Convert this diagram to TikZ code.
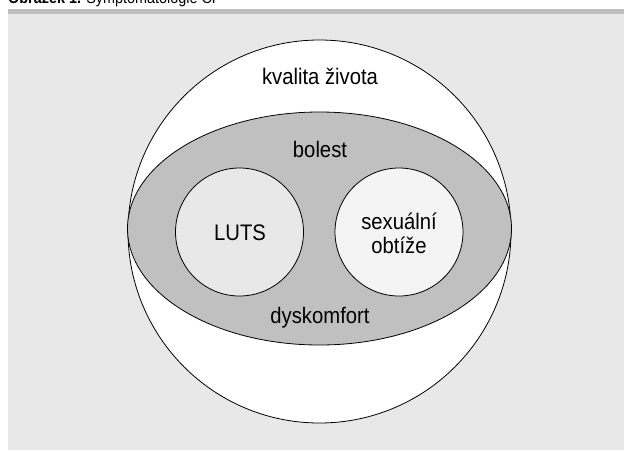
\documentclass[tikz,border=0pt]{standalone}
\usepackage{fontspec}
\setmainfont{Liberation Sans}[FakeStretch=0.9]
\tikzset{
		venn/.style={
			every node/.style={font=\fontsize{22.5}{26}\selectfont,align=center,inner sep=0pt}
		},
		ring/.style={draw,line width=0.8pt},
		capfont/.style={font=\fontsize{16}{18}\selectfont,anchor=base west,inner sep=0pt}
	}
\definecolor{bggrey}{HTML}{E8E8E8}
\definecolor{bargrey}{HTML}{BDBDBD}
\definecolor{bolgrey}{HTML}{C0C0C0}
\definecolor{sexgrey}{HTML}{F4F4F4}

\begin{document}
\begin{tikzpicture}[x=1pt,y=-1pt,venn]
				\useasboundingbox (0,0) rectangle (624,450);
				\begin{scope}
					\clip (0,0) rectangle (624,450);
					\node[capfont] (caption) at (8,3) {\textbf{Obrázek 1.} Symptomatologie CP};
				\end{scope}
				\fill[bargrey] (8,9) rectangle (624,13.5);
				\fill[bggrey] (8,14) rectangle (624,450);
				\draw[ring,fill=white] (319.5,231.5) circle[radius=191.5];
				\draw[ring,fill=bolgrey] (319.5,228.5) ellipse[x radius=192,y radius=116.5];
				\draw[ring,fill=bggrey] (239.5,232) circle[radius=64];
				\draw[ring,fill=sexgrey] (399,232) circle[radius=64];
				\node (kvalita) at (320,76) {kvalita života};
				\node (bolest) at (320,149) {bolest};
				\node (dyskomfort) at (320,318) {dyskomfort};
				\node (luts) at (240,233) {LUTS};
				\node (sex) at (399,233) {sexuální\\[-2pt]obtíže};
			\end{tikzpicture}
\end{document}
